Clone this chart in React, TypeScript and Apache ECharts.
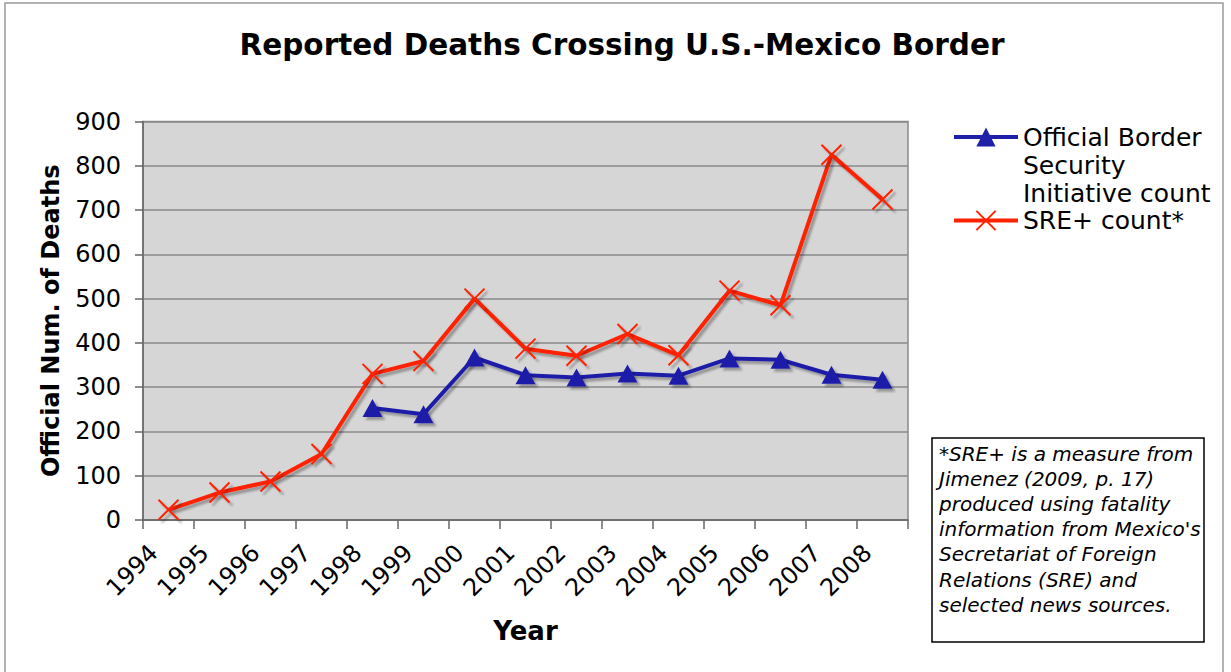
import React, { useEffect, useRef } from "react";
import * as echarts from "echarts";

const years = ["1994", "1995", "1996", "1997", "1998", "1999", "2000", "2001", "2002", "2003", "2004", "2005", "2006", "2007", "2008"];
const obsiCount = [null, null, null, null, 253, 239, 367, 327, 322, 331, 326, 365, 362, 328, 317];
const sreCount = [23, 62, 87, 149, 330, 359, 500, 387, 371, 420, 372, 518, 485, 825, 724];
const yTicks = { min: 0, max: 900, interval: 100 };

const titleText = "Reported Deaths Crossing U.S.-Mexico Border";
const obsiName = "Official Border Security Initiative count";
const sreName = "SRE+ count*";
const noteText =
  "*SRE+ is a measure from\nJimenez (2009, p. 17)\nproduced using fatality\ninformation from Mexico's\nSecretariat of Foreign\nRelations (SRE) and\nselected news sources.";

const FONT = "DejaVu Sans";
const BLUE = "#1f1fa8";
const RED = "#ff2200";

export default function App() {
  const ref = useRef<HTMLDivElement>(null);
  useEffect(() => {
    if (!ref.current) return;
    const chart = echarts.init(ref.current, null, { renderer: "svg" });
    const shadow = {
      shadowColor: "rgba(0,0,0,0.3)",
      shadowOffsetX: 3,
      shadowOffsetY: 3,
      shadowBlur: 2,
    };
    chart.setOption({
      animation: false,
      backgroundColor: "#ffffff",
      title: {
        text: titleText,
        left: 617,
        textAlign: "center",
        top: 25,
        textStyle: { fontFamily: FONT, fontWeight: "bold", fontSize: 29.5, color: "#000" },
      },
      legend: [
        {
          data: [obsiName],
          orient: "vertical",
          left: 952,
          top: 67,
          padding: 0,
          itemWidth: 64,
          itemHeight: 24,
          lineStyle: { width: 4 },
          formatter: () => "\n\nOfficial Border\nSecurity\nInitiative count",
          textStyle: {
            fontFamily: FONT,
            fontSize: 25,
            color: "#000",
            lineHeight: 28,
          },
        },
        {
          data: [sreName],
          orient: "vertical",
          left: 952,
          top: 208,
          padding: 0,
          itemWidth: 64,
          itemHeight: 24,
          lineStyle: { width: 4 },
          textStyle: { fontFamily: FONT, fontSize: 25, color: "#000", lineHeight: 24 },
        },
      ],
      grid: {
        left: 143,
        top: 121.5,
        width: 765,
        height: 398.5,
        show: true,
        backgroundColor: "#d6d6d6",
        borderColor: "#8a8a8a",
        borderWidth: 1.5,
      },
      xAxis: {
        type: "category",
        data: years,
        boundaryGap: true,
        name: "Year",
        nameLocation: "middle",
        nameGap: 98,
        nameTextStyle: { fontFamily: FONT, fontWeight: "bold", fontSize: 26, color: "#000" },
        axisLine: { show: true, lineStyle: { color: "#666", width: 1.5 } },
        axisTick: { show: true, length: 9, lineStyle: { color: "#666", width: 1.5 } },
        axisLabel: {
          rotate: 45,
          margin: 14,
          padding: [0, 21, 0, 0],
          fontFamily: FONT,
          fontSize: 24,
          color: "#000",
        },
        splitLine: { show: false },
      },
      yAxis: {
        type: "value",
        min: yTicks.min,
        max: yTicks.max,
        interval: yTicks.interval,
        name: "Official Num. of Deaths",
        nameLocation: "middle",
        nameGap: 80,
        nameTextStyle: { fontFamily: FONT, fontWeight: "bold", fontSize: 24, color: "#000" },
        axisLine: { show: true, lineStyle: { color: "#666", width: 1.5 } },
        axisTick: { show: true, length: 8, lineStyle: { color: "#666", width: 1.5 } },
        axisLabel: { margin: 22, fontFamily: FONT, fontSize: 24, color: "#000" },
        splitLine: { show: true, lineStyle: { color: "#8a8a8a", width: 1.5 } },
      },
      series: [
        {
          name: obsiName,
          type: "line",
          data: obsiCount,
          symbol: "triangle",
          symbolSize: [20, 18],
          lineStyle: { color: BLUE, width: 4, ...shadow },
          itemStyle: { color: BLUE, ...shadow },
          z: 3,
        },
        {
          name: sreName,
          type: "line",
          data: sreCount,
          symbol: "path://M0,0L10,10M10,0L0,10",
          symbolSize: 20,
          lineStyle: { color: RED, width: 4, ...shadow },
          itemStyle: { color: RED, borderColor: RED, borderWidth: 2, ...shadow },
          z: 4,
        },
      ],
      graphic: [
        {
          type: "rect",
          shape: { x: 5, y: 3, width: 1218, height: 690 },
          style: { fill: "none", stroke: "#9a9a9a", lineWidth: 1.5 },
          silent: true,
          z: -10,
        },
        {
          type: "rect",
          shape: { x: 932, y: 438, width: 272, height: 204 },
          style: { fill: "#fff", stroke: "#000", lineWidth: 1.5 },
          z: 10,
        },
        {
          type: "text",
          x: 939,
          y: 441,
          style: {
            text: noteText,
            fontFamily: FONT,
            fontStyle: "italic",
            fontSize: 20,
            lineHeight: 25.2,
            fill: "#000",
          },
          z: 11,
        },
      ],
    });
    return () => chart.dispose();
  }, []);
  return (
    <div
      ref={ref}
      style={{ position: "fixed", left: 0, top: 0, width: 1231, height: 672 }}
    />
  );
}
